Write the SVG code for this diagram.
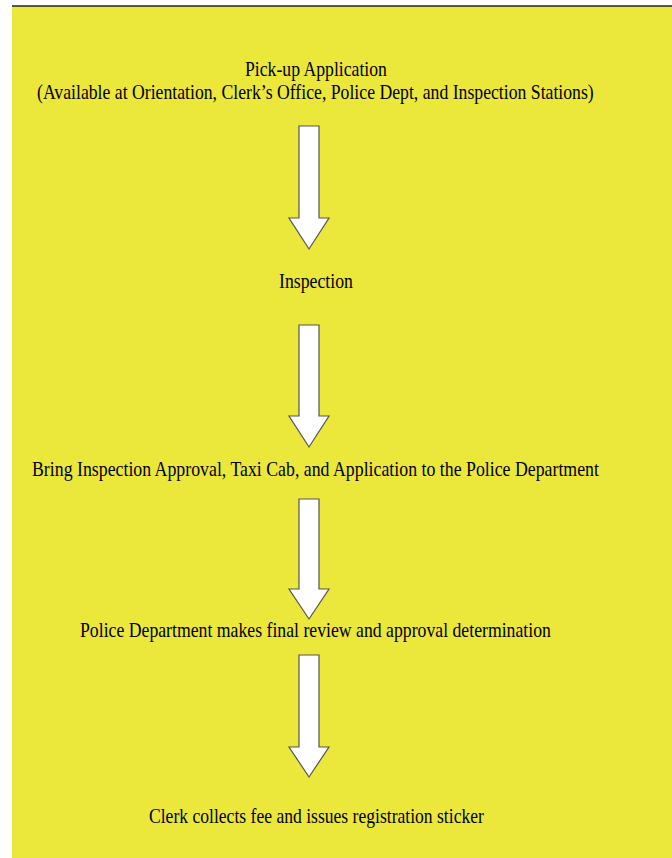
<svg xmlns="http://www.w3.org/2000/svg" width="672" height="858" viewBox="0 0 672 858">
  <style>
    text { font-family: "Liberation Serif", "DejaVu Serif", "Times New Roman", serif; font-size: 21px; fill: #000000; }
    .arrow { fill: #ffffff; stroke: #555555; stroke-width: 1.2; stroke-linejoin: miter; }
  </style>
  <rect x="0" y="0" width="672" height="858" fill="#ffffff"/>
  <rect x="12" y="6" width="660" height="852" fill="#ebe83b"/>
  <line x1="12" y1="6" x2="672" y2="6" stroke="#222222" stroke-width="1.6"/>

  <g id="node-pickup">
    <text transform="translate(245,76) scale(0.85,1)" x="0" y="0" textLength="167" lengthAdjust="spacingAndGlyphs">Pick-up Application</text>
    <text transform="translate(37,99) scale(0.85,1)" x="0" y="0" textLength="655" lengthAdjust="spacingAndGlyphs">(Available at Orientation, Clerk’s Office, Police Dept, and Inspection Stations)</text>
  </g>
  <g id="node-inspection">
    <text transform="translate(279,288) scale(0.85,1)" x="0" y="0" textLength="87" lengthAdjust="spacingAndGlyphs">Inspection</text>
  </g>
  <g id="node-bring">
    <text transform="translate(32,476) scale(0.85,1)" x="0" y="0" textLength="667" lengthAdjust="spacingAndGlyphs">Bring Inspection Approval, Taxi Cab, and Application to the Police Department</text>
  </g>
  <g id="node-review">
    <text transform="translate(80,637) scale(0.85,1)" x="0" y="0" textLength="554" lengthAdjust="spacingAndGlyphs">Police Department makes final review and approval determination</text>
  </g>
  <g id="node-clerk">
    <text transform="translate(149,823) scale(0.85,1)" x="0" y="0" textLength="394" lengthAdjust="spacingAndGlyphs">Clerk collects fee and issues registration sticker</text>
  </g>

  <g id="connectors">
    <polygon class="arrow" points="299,126 319,126 319,218 329,218 309,249 289,218 299,218"/>
    <polygon class="arrow" points="299,325 319,325 319,416 329,416 309,447 289,416 299,416"/>
    <polygon class="arrow" points="299,499 319,499 319,589 329,589 309,619 289,589 299,589"/>
    <polygon class="arrow" points="299,655 319,655 319,747 329,747 309,777 289,747 299,747"/>
  </g>
</svg>
